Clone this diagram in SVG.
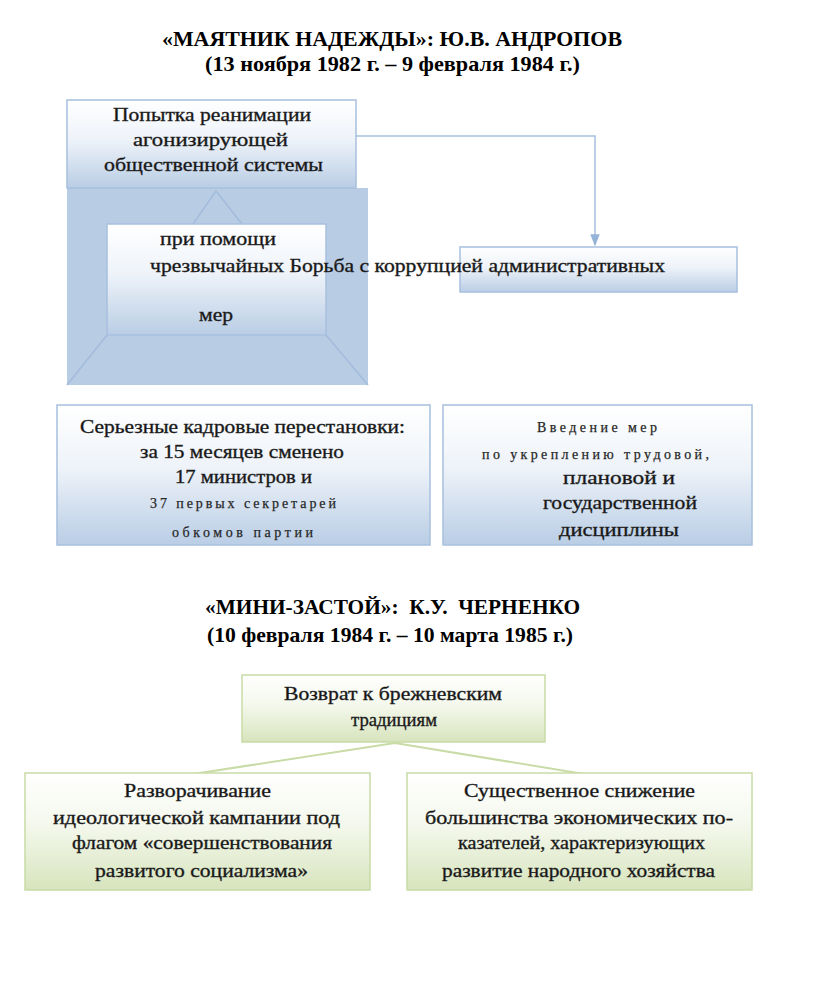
<svg xmlns="http://www.w3.org/2000/svg" width="816" height="995" viewBox="0 0 816 995">
<defs>
<linearGradient id="gb" x1="0" y1="0" x2="0" y2="1"><stop offset="0" stop-color="#ffffff"/><stop offset="0.45" stop-color="#eef3f9"/><stop offset="1" stop-color="#b9cde5"/></linearGradient>
<linearGradient id="gg" x1="0" y1="0" x2="0" y2="1"><stop offset="0" stop-color="#ffffff"/><stop offset="0.45" stop-color="#f4f8ec"/><stop offset="1" stop-color="#d7e4bd"/></linearGradient>
<marker id="ar" viewBox="0 0 10 10" refX="9" refY="5" markerWidth="8" markerHeight="8" orient="auto"><path d="M0,1 L10,5 L0,9 z" fill="#95b3d7"/></marker>
<style>
.t{font-family:'Liberation Serif','DejaVu Serif',serif;font-size:18px;fill:#141414;stroke:#2a2a2a;stroke-width:0.35}
.s{font-family:'Liberation Serif','DejaVu Serif',serif;font-size:14px;fill:#222;stroke:#333;stroke-width:0.25}
.h{font-family:'Liberation Serif','DejaVu Serif',serif;font-size:21px;font-weight:bold;fill:#000;white-space:pre}
.bb{fill:url(#gb);stroke:#a7c0de;stroke-width:1.5}
.gb{fill:url(#gg);stroke:#c9dba6;stroke-width:1.5}
.c{fill:none;stroke:#a7c0de;stroke-width:1.5}
.cg{fill:none;stroke:#c9dba6;stroke-width:2}
</style>
</defs>
<g id="title1">
<text class="h" x="162" y="46" textLength="460" lengthAdjust="spacingAndGlyphs">«МАЯТНИК НАДЕЖДЫ»: Ю.В. АНДРОПОВ</text>
<text class="h" x="205" y="71" textLength="375" lengthAdjust="spacingAndGlyphs">(13 ноября 1982 г. – 9 февраля 1984 г.)</text>
</g>
<g id="frame">
<rect x="67" y="188" width="301" height="197" fill="#b8cce4"/>
<path d="M193,224 L216,191 L242,224 M107,335 L67,385 M326,335 L368,385" fill="none" stroke="#a3bcdb" stroke-width="1.5"/>
</g>
<g id="n1">
<rect class="bb" x="67" y="100" width="289" height="88"/>
<text class="t" x="113" y="121" textLength="198" lengthAdjust="spacingAndGlyphs">Попытка реанимации</text>
<text class="t" x="133" y="146" textLength="155" lengthAdjust="spacingAndGlyphs">агонизирующей</text>
<text class="t" x="104" y="171" textLength="219" lengthAdjust="spacingAndGlyphs">общественной системы</text>
</g>
<g id="n2">
<rect class="bb" x="107" y="224" width="219" height="111"/>
<text class="t" x="160" y="245" textLength="116" lengthAdjust="spacingAndGlyphs">при помощи</text>
<text class="t" x="199" y="321" textLength="34" lengthAdjust="spacingAndGlyphs">мер</text>
</g>
<g id="n3">
<rect class="bb" x="460" y="247" width="277" height="45"/>
</g>
<text class="t" x="150" y="272" textLength="515" lengthAdjust="spacingAndGlyphs">чрезвычайных Борьба с коррупцией административных</text>
<g id="connectors1">
<path class="c" d="M356,136 H595 V245" marker-end="url(#ar)"/>
</g>
<g id="n4">
<rect class="bb" x="57" y="405" width="373" height="140"/>
<text class="t" x="80" y="433" textLength="325" lengthAdjust="spacingAndGlyphs">Серьезные кадровые перестановки:</text>
<text class="t" x="140" y="458" textLength="204" lengthAdjust="spacingAndGlyphs">за 15 месяцев сменено</text>
<text class="t" x="175" y="483" textLength="137" lengthAdjust="spacingAndGlyphs">17 министров и</text>
<text class="s" x="150" y="508" textLength="186" lengthAdjust="spacing">37 первых секретарей</text>
<text class="s" x="172" y="537" textLength="141" lengthAdjust="spacing">обкомов партии</text>
</g>
<g id="n5">
<rect class="bb" x="443" y="405" width="309" height="140"/>
<text class="s" x="537" y="432" textLength="120" lengthAdjust="spacing">Введение мер</text>
<text class="s" x="482" y="459" textLength="227" lengthAdjust="spacing">по укреплению трудовой,</text>
<text class="t" x="563" y="484" textLength="112" lengthAdjust="spacingAndGlyphs">плановой и</text>
<text class="t" x="543" y="509" textLength="154" lengthAdjust="spacingAndGlyphs">государственной</text>
<text class="t" x="559" y="536" textLength="120" lengthAdjust="spacingAndGlyphs">дисциплины</text>
</g>
<g id="title2">
<text class="h" x="205" y="614" textLength="375" lengthAdjust="spacingAndGlyphs">«МИНИ-ЗАСТОЙ»:  К.У.  ЧЕРНЕНКО</text>
<text class="h" x="207" y="642" textLength="366" lengthAdjust="spacingAndGlyphs">(10 февраля 1984 г. – 10 марта 1985 г.)</text>
</g>
<g id="connectors2">
<path class="cg" d="M395,743 L187,775 M395,743 L590,775"/>
</g>
<g id="n6">
<rect class="gb" x="242" y="675" width="303" height="67"/>
<text class="t" x="284" y="700" textLength="218" lengthAdjust="spacingAndGlyphs">Возврат к брежневским</text>
<text class="t" x="351" y="726" textLength="86" lengthAdjust="spacingAndGlyphs">традициям</text>
</g>
<g id="n7">
<rect class="gb" x="25" y="773" width="345" height="117"/>
<text class="t" x="124" y="797" textLength="147" lengthAdjust="spacingAndGlyphs">Разворачивание</text>
<text class="t" x="53" y="824" textLength="287" lengthAdjust="spacingAndGlyphs">идеологической кампании под</text>
<text class="t" x="72" y="849" textLength="260" lengthAdjust="spacingAndGlyphs">флагом «совершенствования</text>
<text class="t" x="95" y="877" textLength="213" lengthAdjust="spacingAndGlyphs">развитого социализма»</text>
</g>
<g id="n8">
<rect class="gb" x="407" y="773" width="345" height="117"/>
<text class="t" x="464" y="797" textLength="231" lengthAdjust="spacingAndGlyphs">Существенное снижение</text>
<text class="t" x="425" y="824" textLength="308" lengthAdjust="spacingAndGlyphs">большинства экономических по-</text>
<text class="t" x="458" y="849" textLength="247" lengthAdjust="spacingAndGlyphs">казателей, характеризующих</text>
<text class="t" x="442" y="877" textLength="273" lengthAdjust="spacingAndGlyphs">развитие народного хозяйства</text>
</g>
</svg>
